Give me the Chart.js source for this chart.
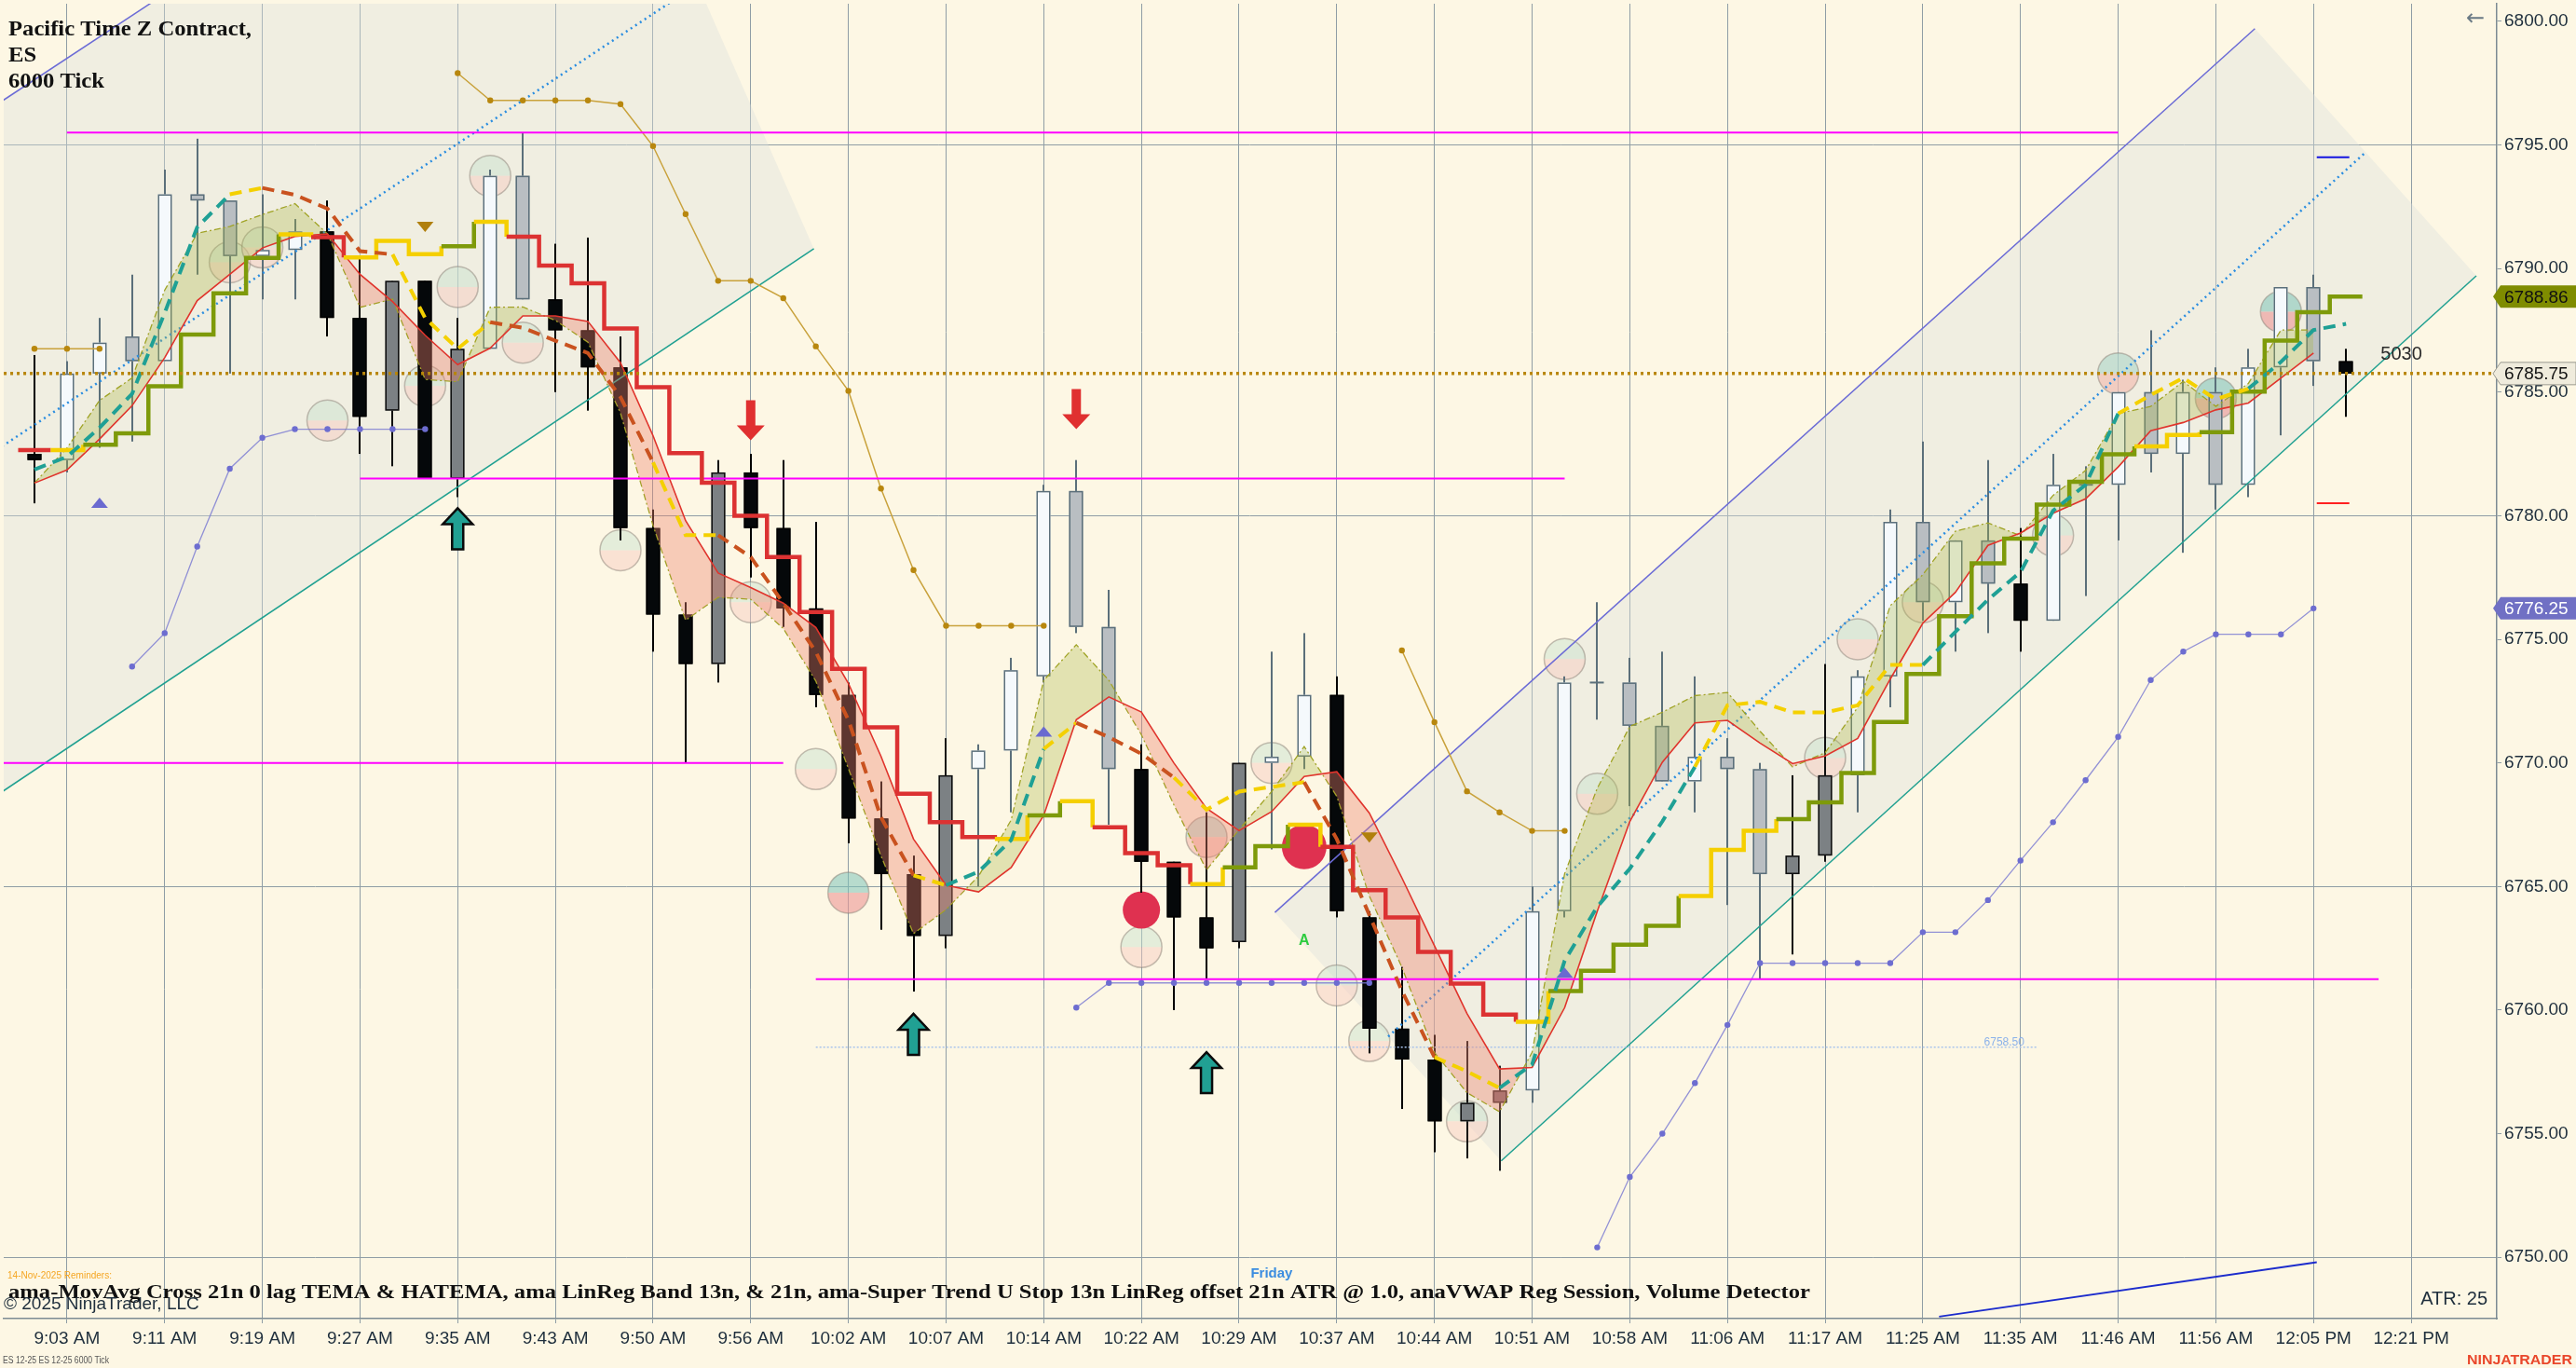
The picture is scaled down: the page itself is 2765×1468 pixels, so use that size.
<!DOCTYPE html>
<html>
<head>
<meta charset="utf-8">
<script src="https://cdn.jsdelivr.net/npm/chart.js@4.4.1/dist/chart.umd.min.js"></script>
<style>
  html, body { margin: 0; padding: 0; background: #fdf7e4; overflow: hidden; }
  canvas { display: block; }
</style>
</head>
<body>
<canvas id="chart" width="2765" height="1468"></canvas>
<script>
// ---- bars (6000 tick, ES 12-25) ----
const barOpen  = [6782.50,6782.25,6785.75,6787.25,6786.25,6793.00,6792.75,6790.50,6790.75,6791.50,6788.00,6784.25,6789.50,6781.50,6786.75,6793.75,6788.75,6787.50,6786.00,6779.50,6776.00,6774.00,6781.75,6779.50,6776.25,6772.75,6767.75,6765.50,6763.00,6769.75,6770.50,6773.50,6781.00,6775.50,6769.75,6766.00,6763.75,6762.75,6770.00,6770.25,6772.75,6763.75,6759.25,6758.00,6755.50,6756.25,6756.75,6764.00,6773.25,6773.25,6771.50,6769.25,6770.25,6769.75,6765.50,6766.25,6769.50,6773.50,6779.75,6776.50,6779.00,6777.25,6775.75,6781.25,6781.25,6785.00,6782.50,6785.00,6781.25,6786.00,6789.25,6786.25]
const barHigh  = [6786.50,6786.25,6788.00,6789.75,6794.00,6795.25,6792.75,6793.00,6792.00,6792.75,6790.50,6789.50,6789.50,6788.00,6794.00,6795.50,6791.00,6791.25,6787.25,6780.25,6776.50,6782.25,6782.50,6782.25,6779.75,6773.25,6769.25,6766.25,6771.00,6770.75,6774.25,6781.25,6782.25,6777.00,6770.75,6766.00,6768.00,6770.00,6774.50,6775.25,6773.50,6764.00,6761.75,6759.00,6758.75,6757.75,6765.00,6773.50,6776.50,6774.25,6774.50,6773.50,6771.00,6770.00,6769.50,6774.00,6773.75,6780.25,6783.00,6779.00,6782.25,6779.50,6782.50,6782.00,6785.00,6787.50,6785.50,6786.00,6786.75,6789.25,6789.75,6786.75]
const barLow   = [6780.50,6781.75,6782.75,6783.00,6786.25,6789.75,6785.75,6788.75,6788.75,6787.25,6782.50,6782.00,6781.50,6780.75,6786.75,6788.75,6785.00,6784.25,6779.00,6774.50,6770.00,6773.25,6777.50,6775.50,6772.25,6766.75,6763.25,6760.75,6762.50,6765.00,6768.00,6773.25,6775.25,6767.50,6764.75,6760.00,6761.25,6762.50,6766.50,6769.75,6763.75,6758.25,6756.00,6754.25,6754.00,6753.50,6756.25,6763.75,6771.75,6768.25,6769.25,6768.00,6764.25,6761.25,6762.25,6766.00,6768.00,6772.25,6775.75,6774.50,6775.25,6774.50,6775.75,6776.75,6779.00,6781.75,6778.50,6780.25,6780.75,6783.25,6785.25,6784.00]
const barClose = [6782.25,6785.75,6787.00,6786.25,6793.00,6792.75,6790.50,6790.75,6791.50,6788.00,6784.00,6789.50,6781.50,6786.75,6793.75,6788.75,6787.50,6786.00,6779.50,6776.00,6774.00,6781.75,6779.50,6776.25,6772.75,6767.75,6765.50,6763.00,6769.50,6770.50,6773.75,6781.00,6775.50,6769.75,6766.00,6763.75,6762.50,6770.00,6770.25,6772.75,6764.00,6759.25,6758.00,6755.50,6756.25,6756.75,6764.00,6773.25,6773.25,6771.50,6769.25,6770.25,6769.75,6765.50,6766.25,6769.50,6773.50,6779.75,6776.50,6779.00,6777.25,6775.75,6781.25,6781.25,6785.00,6782.50,6785.00,6781.25,6786.00,6789.25,6786.25,6785.75]
// paint-bar trend: 1 up regime, -1 down regime, 0 neutral
const barTrend = [-1,1,1,1,1,1,1,1,1,-1,-1,-1,-1,-1,1,1,-1,-1,-1,-1,-1,-1,-1,-1,-1,-1,-1,-1,-1,1,1,1,1,1,-1,-1,-1,-1,1,1,-1,-1,-1,-1,-1,0,1,1,1,1,1,1,1,1,-1,-1,1,1,1,1,1,-1,1,1,1,1,1,1,1,1,1,-1]
const lastBarVolume = 5030

// ---- x axis ----
const timeBars   = [1,4,7,10,13,16,19,22,25,28,31,34,37,40,43,46,49,52,55,58,61,64,67,70,73]
const timeLabels = ['9:03 AM','9:11 AM','9:19 AM','9:27 AM','9:35 AM','9:43 AM','9:50 AM','9:56 AM','10:02 AM','10:07 AM','10:14 AM','10:22 AM','10:29 AM','10:37 AM','10:44 AM','10:51 AM','10:58 AM','11:06 AM','11:17 AM','11:25 AM','11:35 AM','11:46 AM','11:56 AM','12:05 PM','12:21 PM']

// ---- ama-MovAvg Cross TEMA / HATEMA (1 rising, 0 flat, -1 falling) ----
const temaLine  = [6781.87,6782.38,6783.56,6784.93,6788.20,6791.67,6793.00,6793.26,6792.98,6792.42,6790.70,6790.57,6788.00,6786.75,6787.83,6787.60,6787.08,6786.58,6784.80,6782.16,6779.21,6779.21,6778.33,6776.46,6774.49,6771.74,6767.80,6765.45,6765.05,6765.60,6766.88,6770.56,6771.62,6771.04,6770.37,6769.41,6768.11,6768.84,6769.03,6769.22,6766.92,6763.85,6760.78,6758.10,6757.52,6756.85,6757.80,6762.00,6764.18,6765.72,6767.63,6769.84,6772.33,6772.47,6772.04,6772.04,6772.33,6773.96,6773.96,6775.30,6776.60,6777.72,6780.20,6781.25,6784.13,6784.88,6785.57,6784.71,6785.14,6786.22,6787.51,6787.76]
const temaState = [1,1,1,1,1,1,1,0,-1,-1,-1,-1,0,0,0,-1,-1,-1,-1,-1,0,0,-1,-1,-1,-1,-1,-1,0,1,1,1,0,-1,-1,-1,0,0,0,0,-1,-1,-1,-1,0,0,1,1,1,1,1,1,0,0,0,0,0,0,0,1,1,1,1,1,1,0,0,0,0,1,1,1]

// ---- ama LinReg Band 13n & 21n ----
const linRegFast = [6781.32,6781.85,6783.10,6784.45,6786.39,6788.70,6789.76,6790.83,6791.30,6791.40,6789.76,6788.66,6787.30,6786.11,6786.78,6788.08,6788.08,6787.86,6786.19,6783.24,6779.80,6777.68,6777.09,6776.46,6775.48,6773.22,6770.27,6766.92,6765.05,6764.78,6765.77,6767.88,6771.75,6772.67,6772.06,6769.99,6768.16,6767.26,6768.03,6769.45,6769.64,6767.97,6765.35,6762.60,6759.86,6757.62,6757.68,6760.10,6763.99,6767.63,6770.03,6771.62,6771.72,6770.80,6769.97,6770.28,6770.99,6773.39,6775.65,6776.90,6778.80,6779.30,6780.10,6780.68,6781.97,6783.44,6783.77,6784.28,6784.56,6785.57,6786.58]
const linRegSlow = [6781.32,6782.74,6784.66,6785.57,6789.12,6791.42,6791.70,6792.18,6792.62,6791.40,6788.43,6788.76,6785.51,6785.42,6788.43,6788.44,6787.90,6787.02,6784.15,6779.60,6775.77,6776.70,6776.62,6775.44,6773.31,6769.77,6766.24,6763.09,6764.07,6765.42,6767.69,6773.34,6774.78,6773.34,6771.14,6768.30,6765.67,6767.30,6768.84,6770.66,6768.65,6764.62,6761.74,6758.29,6756.66,6755.89,6758.29,6765.52,6768.97,6771.47,6772.05,6772.72,6772.85,6771.28,6769.84,6770.41,6772.24,6776.36,6777.61,6779.37,6779.71,6779.19,6780.82,6781.83,6784.13,6784.42,6785.43,6784.42,6785.35,6787.51,6787.51]

// ---- ama-Super Trend U stop (1 long, 0 neutral, -1 short) ----
const stopLine  = [6782.65,6782.65,6782.87,6783.33,6785.24,6787.33,6789.00,6790.43,6791.38,6791.27,6790.45,6791.12,6790.58,6790.90,6791.89,6791.29,6790.12,6789.40,6787.57,6785.20,6782.53,6781.33,6780.00,6778.33,6776.10,6773.80,6771.44,6768.75,6767.60,6767.00,6766.92,6767.88,6768.45,6767.40,6766.35,6765.86,6765.10,6765.77,6766.63,6767.50,6766.60,6764.85,6763.75,6762.35,6761.07,6759.82,6759.53,6760.77,6761.59,6762.65,6763.41,6764.62,6766.48,6767.25,6767.73,6768.40,6769.59,6771.66,6773.60,6775.93,6778.07,6779.07,6780.45,6781.37,6782.48,6782.80,6783.27,6783.38,6785.02,6787.08,6788.23,6788.86]
const stopState = [-1,0,1,1,1,1,1,1,0,-1,0,0,0,1,0,-1,-1,-1,-1,-1,-1,-1,-1,-1,-1,-1,-1,-1,-1,-1,0,1,0,-1,-1,-1,0,1,1,0,-1,-1,-1,-1,-1,-1,0,1,1,1,1,0,0,0,1,1,1,1,1,1,1,1,1,1,1,0,0,1,1,1,1,1]

// ---- anaVWAP session bands ----
const vwapUpper = [6786.75,6786.75,6786.75,null,null,null,null,null,null,null,null,null,null,6797.90,6796.80,6796.80,6796.80,6796.80,6796.65,6794.95,6792.20,6789.50,6789.50,6788.80,6786.85,6785.05,6781.10,6777.80,6775.55,6775.55,6775.55,6775.55,null,null,null,null,null,null,null,null,null,null,6774.55,6771.65,6768.85,6768.00,6767.25,6767.25]
const vwapLower = [null,null,null,6773.90,6775.25,6778.75,6781.90,6783.15,6783.50,6783.50,6783.50,6783.50,6783.50,null,null,null,null,null,null,null,null,null,null,null,null,null,null,null,null,null,null,null,6760.10,6761.10,6761.10,6761.10,6761.10,6761.10,6761.10,6761.10,6761.10,6761.10,null,null,null,null,null,null,6750.40,6753.25,6755.00,6757.05,6759.40,6761.90,6761.90,6761.90,6761.90,6761.90,6763.15,6763.15,6764.45,6766.05,6767.60,6769.30,6771.05,6773.35,6774.50,6775.20,6775.20,6775.20,6776.25]

// ---- Volume Detector: [bar, price, strength] ----
const volCircles = [[6,6790.25,1],[7,6790.85,1],[9,6783.85,1],[12,6785.25,1],[13,6789.25,1],[14,6793.75,1],[15,6787.00,1],[18,6778.60,1],[22,6776.50,1],[24,6769.75,1],[25,6764.75,3],[34,6762.55,1],[36,6767.00,2],[38,6770.00,1],[40,6761.00,1],[41,6758.75,1],[44,6755.50,1],[47,6774.20,1],[48,6768.75,1],[55,6770.20,1],[56,6775.00,1],[58,6776.50,1],[62,6779.20,1],[64,6785.75,2],[67,6784.75,3],[69,6788.25,3]]
const volSpikes  = [[34,6764.05],[39,6766.60]]

// ---- signals ----
const buyArrows  = [[13,6780.30],[27,6759.85],[36,6758.30]]
const sellArrows = [[22,6783.05],[32,6783.50]]
const crossUp    = [[2,6780.50],[31,6771.25],[47,6761.50]]
const crossDown  = [[12,6791.70],[41,6767.00]]
const alertMarks = [[39,6762.80,'A']]

// ---- drawings: regression channels [[bar, price], [bar, price]] ----
const channelUpper = [[[-5,6793.30],[16.80,6812.20]], [[38.10,6763.95],[68.20,6799.70]]]
const channelMid   = [[[-5,6779.30],[20.37,6801.50]], [[41.58,6758.93],[71.60,6794.70]]]
const channelLower = [[[-5,6765.30],[23.94,6790.80]], [[45.05,6753.90],[75.00,6789.70]]]
// horizontal levels [fromBar, toBar, price]
const levelLines = [[1,64,6795.50],[10,47,6781.50],[-1,23,6770.00],[24,72,6761.25]]
const dottedLevel = [24,61.5,6758.50]
const atrBands = [6794.50,6780.50]
const trendLine = [[58.5,6747.60],[70.1,6749.80]]
const atrValue = 25

const X_MIN = -0.943, X_MAX = 75.63, Y_MIN = 6747.52, Y_MAX = 6800.71

const pts = arr => arr.map((v, i) => ({ x: i, y: v }))
const seg = (a, b) => [{ x: a[0], y: a[1] }, { x: b[0], y: b[1] }]
const SANS = '"Liberation Sans", Arial, sans-serif'
const SERIF = '"Liberation Serif", "Times New Roman", serif'

const temaColors = ['#c9521f', '#f4d000', '#1fa095']
const stopColors = ['#dc3232', '#f5cf00', '#7e9a0a']

const datasets = [
  { data: pts(linRegFast), borderColor: '#e0342c', borderWidth: 1.6, pointRadius: 0,
    fill: { target: 1, above: 'rgba(236,132,110,0.38)', below: 'rgba(172,184,70,0.32)' }, order: 40 },
  { data: pts(linRegSlow), borderColor: '#9ba31e', borderWidth: 1.3, borderDash: [7, 3, 2, 3], pointRadius: 0, fill: false, order: 41 },
  { data: stopLine.map((v, i) => ({ x: i - 0.5, y: v })).concat([{ x: stopLine.length - 0.5, y: stopLine[stopLine.length - 1] }]),
    stepped: true, borderWidth: 4.5, pointRadius: 0, borderColor: '#7e9a0a',
    segment: { borderColor: c => stopColors[stopState[c.p0DataIndex] + 1] }, order: 20 },
  { data: pts(temaLine), borderWidth: 4, borderDash: [13, 8], pointRadius: 0, borderColor: '#1fa095',
    segment: { borderColor: c => temaColors[temaState[c.p1DataIndex] + 1] }, order: 10 },
  { data: pts(vwapUpper), spanGaps: false, borderColor: '#c9a23c', borderWidth: 1.5, pointRadius: 3.2,
    pointBackgroundColor: '#b8870e', pointBorderWidth: 0, order: 30 },
  { data: pts(vwapLower), spanGaps: false, borderColor: 'rgba(120,120,210,0.8)', borderWidth: 1.3, pointRadius: 3.2,
    pointBackgroundColor: '#6d6dd0', pointBorderWidth: 0, order: 31 },
  { data: [{ x: X_MIN - 1, y: barClose[barClose.length - 1] }, { x: X_MAX + 1, y: barClose[barClose.length - 1] }],
    borderColor: '#b8860b', borderWidth: 3.5, borderDash: [3, 4], pointRadius: 0, order: 5 },
  { data: seg(trendLine[0], trendLine[1]), borderColor: '#1c2ccc', borderWidth: 2, pointRadius: 0, order: 45 },
  { data: seg([dottedLevel[0], dottedLevel[2]], [dottedLevel[1], dottedLevel[2]]), borderColor: '#a9c4ec', borderWidth: 1.5, borderDash: [2, 2], pointRadius: 0, order: 46 },
  { data: seg([70.1, atrBands[0]], [71.1, atrBands[0]]), borderColor: '#1414e0', borderWidth: 2, pointRadius: 0, order: 6 },
  { data: seg([70.1, atrBands[1]], [71.1, atrBands[1]]), borderColor: '#ff2020', borderWidth: 2, pointRadius: 0, order: 6 }
]
channelUpper.forEach(s => datasets.push({ data: seg(s[0], s[1]), borderColor: '#6b6bd6', borderWidth: 1.5, pointRadius: 0, order: 50 }))
channelMid.forEach(s => datasets.push({ data: seg(s[0], s[1]), borderColor: '#2a8de0', borderWidth: 2.5, borderDash: [2, 4], pointRadius: 0, order: 50 }))
channelLower.forEach(s => datasets.push({ data: seg(s[0], s[1]), borderColor: '#1fa090', borderWidth: 1.5, pointRadius: 0, order: 50 }))
levelLines.forEach(l => datasets.push({ data: seg([l[0], l[2]], [l[1], l[2]]), borderColor: '#ff00ff', borderWidth: 2, pointRadius: 0, order: 28 }))

function candleStyle(i) {
  const up = barClose[i] >= barOpen[i]
  const t = barTrend[i]
  if (t === 0) return { fill: '#8b6d70', line: '#3a2a2a', wick: '#222222' }
  if (t > 0) return up ? { fill: '#f5f9fc', line: '#5b6f7a', wick: '#5b6f7a' } : { fill: '#b9bec2', line: '#5b6f7a', wick: '#5b6f7a' }
  return up ? { fill: '#7c8184', line: '#101010', wick: '#101010' } : { fill: '#05080a', line: '#000000', wick: '#000000' }
}

function fitText(ctx, text, x, y, width) {
  const m = ctx.measureText(text).width
  ctx.save()
  ctx.translate(x, y)
  ctx.scale(width / m, 1)
  ctx.fillText(text, 0, 0)
  ctx.restore()
}

const overlay = {
  id: 'overlay',
  beforeDraw(chart) {
    const ctx = chart.ctx
    ctx.save()
    ctx.fillStyle = '#fdf7e4'
    ctx.fillRect(0, 0, chart.width, chart.height)
    ctx.restore()
  },
  beforeDatasetsDraw(chart) {
    const { ctx, chartArea: a, scales: { x, y } } = chart
    ctx.save()
    ctx.beginPath(); ctx.rect(a.left, a.top, a.right - a.left, a.bottom - a.top); ctx.clip()

    // regression channel shading
    channelUpper.forEach((u, k) => {
      const lo = channelLower[k]
      ctx.beginPath()
      ctx.moveTo(x.getPixelForValue(u[0][0]), y.getPixelForValue(u[0][1]))
      ctx.lineTo(x.getPixelForValue(u[1][0]), y.getPixelForValue(u[1][1]))
      ctx.lineTo(x.getPixelForValue(lo[1][0]), y.getPixelForValue(lo[1][1]))
      ctx.lineTo(x.getPixelForValue(lo[0][0]), y.getPixelForValue(lo[0][1]))
      ctx.closePath()
      ctx.fillStyle = 'rgba(219,224,222,0.38)'
      ctx.fill()
    })

    // volume detector circles
    const tones = { 1: ['rgba(198,224,206,0.45)', 'rgba(246,200,190,0.45)'],
                    2: ['rgba(165,212,198,0.55)', 'rgba(242,178,168,0.55)'],
                    3: ['rgba(125,196,186,0.55)', 'rgba(236,150,150,0.60)'] }
    const r = 22
    volCircles.forEach(([b, p, s]) => {
      const cx = x.getPixelForValue(b), cy = y.getPixelForValue(p)
      ctx.save()
      ctx.beginPath(); ctx.arc(cx, cy, r, 0, Math.PI * 2); ctx.clip()
      ctx.fillStyle = tones[s][0]; ctx.fillRect(cx - r, cy - r, 2 * r, r)
      ctx.fillStyle = tones[s][1]; ctx.fillRect(cx - r, cy, 2 * r, r)
      ctx.restore()
      ctx.beginPath(); ctx.arc(cx, cy, r, 0, Math.PI * 2)
      ctx.strokeStyle = 'rgba(140,130,120,0.5)'; ctx.lineWidth = 1.5; ctx.stroke()
    })
    volSpikes.forEach(([b, p], k) => {
      const cx = x.getPixelForValue(b), cy = y.getPixelForValue(p)
      ctx.beginPath(); ctx.arc(cx, cy, k === 0 ? 20 : 24, 0, Math.PI * 2)
      ctx.fillStyle = '#df3150'; ctx.fill()
    })

    // candles
    const step = x.getPixelForValue(1) - x.getPixelForValue(0)
    const bw = Math.round(step * 0.43)
    barOpen.forEach((o, i) => {
      const st = candleStyle(i)
      const cx = Math.round(x.getPixelForValue(i))
      const yh = y.getPixelForValue(barHigh[i]), yl = y.getPixelForValue(barLow[i])
      const yo = y.getPixelForValue(o), yc = y.getPixelForValue(barClose[i])
      ctx.fillStyle = st.wick
      ctx.fillRect(cx - 1, yh, 2, yl - yh)
      if (o === barClose[i]) {
        ctx.fillStyle = st.line
        ctx.fillRect(cx - bw / 2, yo - 1, bw, 2)
        return
      }
      const top = Math.min(yo, yc), h = Math.max(Math.abs(yo - yc), 2)
      ctx.fillStyle = st.fill
      ctx.fillRect(cx - bw / 2, top, bw, h)
      ctx.strokeStyle = st.line; ctx.lineWidth = 1.5
      ctx.strokeRect(cx - bw / 2 + 0.75, top + 0.75, bw - 1.5, h - 1.5)
    })
    ctx.restore()
  },
  afterDatasetsDraw(chart) {
    const { ctx, chartArea: a, scales: { x, y } } = chart
    ctx.save()
    ctx.beginPath(); ctx.rect(a.left, a.top, a.right - a.left, a.bottom - a.top); ctx.clip()

    // buy arrows
    buyArrows.forEach(([b, p]) => {
      const cx = x.getPixelForValue(b), t = y.getPixelForValue(p)
      ctx.beginPath()
      ctx.moveTo(cx, t); ctx.lineTo(cx + 16, t + 17); ctx.lineTo(cx + 6, t + 17); ctx.lineTo(cx + 6, t + 44)
      ctx.lineTo(cx - 6, t + 44); ctx.lineTo(cx - 6, t + 17); ctx.lineTo(cx - 16, t + 17); ctx.closePath()
      ctx.fillStyle = '#21a093'; ctx.fill()
      ctx.strokeStyle = '#0b0b0b'; ctx.lineWidth = 2.5; ctx.stroke()
    })
    // sell arrows
    sellArrows.forEach(([b, p]) => {
      const cx = x.getPixelForValue(b), t = y.getPixelForValue(p)
      ctx.beginPath()
      ctx.moveTo(cx, t); ctx.lineTo(cx + 15, t - 16); ctx.lineTo(cx + 5, t - 16); ctx.lineTo(cx + 5, t - 43)
      ctx.lineTo(cx - 5, t - 43); ctx.lineTo(cx - 5, t - 16); ctx.lineTo(cx - 15, t - 16); ctx.closePath()
      ctx.fillStyle = '#e03030'; ctx.fill()
    })
    // cross triangles
    crossUp.forEach(([b, p]) => {
      const cx = x.getPixelForValue(b), cy = y.getPixelForValue(p)
      ctx.beginPath(); ctx.moveTo(cx, cy - 6); ctx.lineTo(cx + 9, cy + 5); ctx.lineTo(cx - 9, cy + 5); ctx.closePath()
      ctx.fillStyle = '#6a6ad0'; ctx.fill()
    })
    crossDown.forEach(([b, p]) => {
      const cx = x.getPixelForValue(b), cy = y.getPixelForValue(p)
      ctx.beginPath(); ctx.moveTo(cx, cy + 6); ctx.lineTo(cx + 9, cy - 5); ctx.lineTo(cx - 9, cy - 5); ctx.closePath()
      ctx.fillStyle = '#b07f0c'; ctx.fill()
    })
    ctx.textAlign = 'center'; ctx.textBaseline = 'middle'
    alertMarks.forEach(([b, p, t]) => {
      ctx.font = 'bold 16px ' + SANS; ctx.fillStyle = '#2ecc40'
      ctx.fillText(t, x.getPixelForValue(b), y.getPixelForValue(p))
    })

    // volume text on last bar
    ctx.font = '20px ' + SANS; ctx.fillStyle = '#2b2b2b'
    ctx.fillText(String(lastBarVolume), x.getPixelForValue(72.7), y.getPixelForValue(6786.5))
    // dotted level label
    ctx.font = '12px ' + SANS; ctx.fillStyle = '#8cb2ea'; ctx.textBaseline = 'alphabetic'
    ctx.fillText(dottedLevel[2].toFixed(2), x.getPixelForValue(60.5), y.getPixelForValue(dottedLevel[2]) - 2)

    // title block
    ctx.textAlign = 'left'; ctx.fillStyle = '#111111'
    ctx.font = 'bold 24px ' + SERIF
    const t1 = 'Pacific Time Z Contract,'
    const k = 261 / ctx.measureText(t1).width
    ;[t1, 'ES', '6000 Tick'].forEach((s, i) => {
      ctx.save(); ctx.translate(9, 38 + i * 28); ctx.scale(k, 1); ctx.fillText(s, 0, 0); ctx.restore()
    })

    // bottom annotations
    ctx.font = '11px ' + SANS; ctx.fillStyle = '#f5a623'
    fitText(ctx, '14-Nov-2025 Reminders:', 8, 1372, 112)
    ctx.font = 'bold 22px ' + SERIF; ctx.fillStyle = '#111111'
    fitText(ctx, 'ama-MovAvg Cross 21n 0 lag TEMA & HATEMA, ama LinReg Band 13n, & 21n, ama-Super Trend U Stop 13n LinReg offset 21n ATR @ 1.0, anaVWAP Reg Session, Volume Detector', 9, 1393, 1934)
    ctx.font = '19px ' + SANS; ctx.fillStyle = '#1e2e3c'
    ctx.fillText('\u00a9 2025 NinjaTrader, LLC', 4, 1405)
    ctx.font = 'bold 15px ' + SANS; ctx.fillStyle = '#3b8de0'; ctx.textAlign = 'center'
    ctx.fillText('Friday', x.getPixelForValue(38), 1371)
    ctx.font = '20px ' + SANS; ctx.fillStyle = '#1e2e3c'; ctx.textAlign = 'right'
    ctx.fillText('ATR: ' + atrValue, a.right - 10, 1400)
    ctx.restore()
  },
  afterDraw(chart) {
    const { ctx, chartArea: a, scales: { y } } = chart
    const tag = (val, fill, stroke, color) => {
      const cy = y.getPixelForValue(val), tip = a.right - 4, l = a.right + 4, r = chart.width, h = 24
      ctx.beginPath()
      ctx.moveTo(tip, cy); ctx.lineTo(l, cy - h / 2); ctx.lineTo(r, cy - h / 2); ctx.lineTo(r, cy + h / 2); ctx.lineTo(l, cy + h / 2); ctx.closePath()
      ctx.fillStyle = fill; ctx.fill()
      if (stroke) { ctx.strokeStyle = stroke; ctx.lineWidth = 1; ctx.stroke() }
      ctx.font = '19px ' + SANS; ctx.fillStyle = color; ctx.textAlign = 'left'; ctx.textBaseline = 'middle'
      ctx.fillText(val.toFixed(2), a.right + 8, cy + 1)
    }
    ctx.save()
    tag(stopLine[stopLine.length - 1], '#7f8c00', null, '#111111')
    tag(barClose[barClose.length - 1], '#efebdc', '#9a9a90', '#111111')
    tag(vwapLower[vwapLower.length - 1], '#7070c4', null, '#ffffff')

    ctx.font = '24px "DejaVu Sans", sans-serif'; ctx.fillStyle = '#6a7a85'; ctx.textAlign = 'center'; ctx.textBaseline = 'middle'
    ctx.fillText('\u2190', a.right - 23, 21)
    ctx.textAlign = 'left'; ctx.textBaseline = 'alphabetic'
    ctx.font = '10px ' + SANS; ctx.fillStyle = '#555555'
    fitText(ctx, 'ES 12-25 ES 12-25 6000 Tick', 3, 1463, 114)
    ctx.font = 'bold 15px ' + SANS; ctx.fillStyle = '#e9472b'
    fitText(ctx, 'NINJATRADER', chart.width - 117, 1464, 113)
    ctx.restore()
  }
}

const axisFont = { family: SANS, size: 19 }
new Chart(document.getElementById('chart'), {
  type: 'line',
  data: { datasets },
  plugins: [overlay],
  options: {
    responsive: false,
    animation: false,
    devicePixelRatio: 1,
    events: [],
    layout: { padding: 0 },
    plugins: { legend: { display: false }, tooltip: { enabled: false } },
    scales: {
      x: {
        type: 'linear', position: 'bottom', min: X_MIN, max: X_MAX,
        afterBuildTicks: ax => { ax.ticks = timeBars.map(v => ({ value: v })) },
        afterFit: s => { s.height = 53; s.paddingLeft = 0; s.paddingRight = 0 },
        ticks: { autoSkip: false, maxRotation: 0, padding: 5, color: '#1e2e3c', font: axisFont,
                 callback: (v, i) => timeLabels[i] },
        grid: { color: '#8f9da5', lineWidth: 1, tickLength: 5, tickColor: '#8f9da5' },
        border: { color: '#7d8b93', width: 1.5 }
      },
      y: {
        type: 'linear', position: 'right', min: Y_MIN, max: Y_MAX,
        afterFit: s => { s.width = 85; s.paddingTop = 0; s.paddingBottom = 0 },
        ticks: { stepSize: 5, includeBounds: false, padding: 3, color: '#1e2e3c', font: axisFont,
                 callback: v => v.toFixed(2) },
        grid: { color: c => (c.tick && Math.round(c.tick.value) % 15 === 0) ? '#8f9da5' : 'rgba(0,0,0,0)',
                tickLength: 5, tickColor: '#8f9da5' },
        border: { color: '#7d8b93', width: 1.5 }
      }
    }
  }
})
</script>
</body>
</html>
